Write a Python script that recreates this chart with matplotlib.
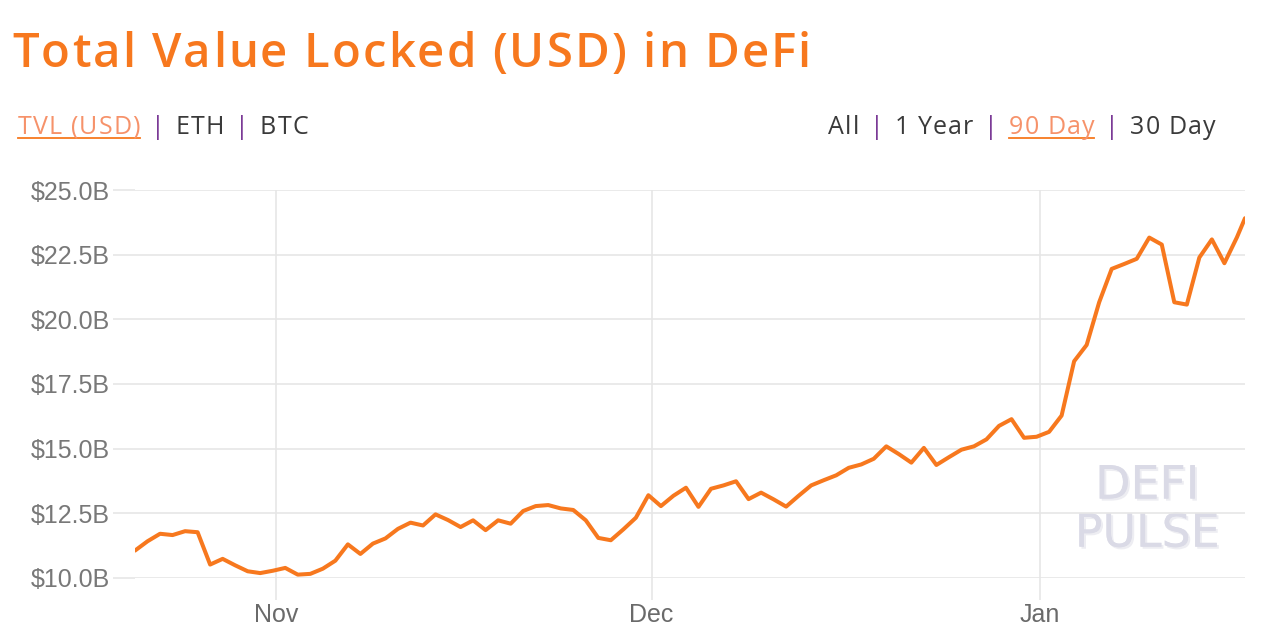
import matplotlib
matplotlib.use("Agg")
import matplotlib.pyplot as plt
import pandas as pd
from matplotlib import patheffects

# daily TVL in billions USD (points sit at ~18:00 each day), last point is "now"
oct_tvl = [11.06, 11.42, 11.71, 11.66, 11.81, 11.77, 10.52, 10.74, 10.49, 10.26, 10.19, 10.28]
nov_tvl = [10.39, 10.13, 10.16, 10.36, 10.67, 11.30, 10.93, 11.33, 11.53, 11.90,
           12.14, 12.03, 12.46, 12.24, 11.97, 12.23, 11.85, 12.23, 12.10, 12.59,
           12.78, 12.82, 12.69, 12.63, 12.23, 11.55, 11.46, 11.88, 12.33, 13.20]
dec_tvl = [12.78, 13.18, 13.49, 12.75, 13.45, 13.58, 13.74, 13.05, 13.30, 13.04,
           12.76, 13.18, 13.58, 13.78, 13.97, 14.26, 14.39, 14.61, 15.09, 14.79,
           14.46, 15.03, 14.37, 14.67, 14.96, 15.09, 15.36, 15.88, 16.14, 15.42, 15.46]
jan_tvl = [15.65, 16.28, 18.38, 19.01, 20.66, 21.95, 22.14, 22.34, 23.16, 22.89,
           20.66, 20.57, 22.39, 23.09, 22.17, 23.17, 23.91]

tvl = oct_tvl + nov_tvl + dec_tvl + jan_tvl
dates = list(pd.date_range("2020-10-20 18:00", periods=len(tvl) - 1, freq="D"))
dates.append(pd.Timestamp("2021-01-17 09:30"))

y_ticks = [10.0, 12.5, 15.0, 17.5, 20.0, 22.5, 25.0]
x_ticks = [pd.Timestamp("2020-11-01"), pd.Timestamp("2020-12-01"), pd.Timestamp("2021-01-01")]
x_labels = ["Nov", "Dec", "Jan"]

ORANGE = "#F7781E"
LIGHT_ORANGE = "#F6926A"
PURPLE = "#7B3A96"
DARK = "#3A3A3A"
GRID = "#E6E6E6"
W, H = 1261, 641

fig = plt.figure(figsize=(W / 100, H / 100), dpi=100)
ax = fig.add_axes([135 / W, 1 - 578 / H, (1245 - 135) / W, (578 - 190) / H])

ax.plot(dates, tvl, color=ORANGE, lw=2.9, solid_joinstyle="round", solid_capstyle="round", zorder=3)

ax.set_xlim(dates[0], dates[-1])
ax.set_ylim(10, 25)
ax.set_yticks(y_ticks)
ax.set_yticklabels(["${:.1f}B".format(v) for v in y_ticks])
ax.set_xticks(x_ticks)
ax.set_xticklabels(x_labels)
ax.grid(True, color=GRID, lw=1.2)
for s in ax.spines.values():
    s.set_visible(False)
ax.tick_params(axis="y", length=16, color=GRID, width=1.2, pad=2,
               labelsize=18, labelcolor="#787878")
ax.tick_params(axis="x", length=16, color=GRID, width=1.2, pad=2,
               labelsize=18, labelcolor="#6a6a6a")
for lab in ax.get_xticklabels() + ax.get_yticklabels():
    lab.set_fontfamily("Liberation Sans")

# watermark
shadow = [patheffects.withSimplePatchShadow(offset=(1.5, -1.5), shadow_rgbFace="#EDEDF2", alpha=1),
          patheffects.Normal()]
for txt, yy in [("DEFI", 0.237), ("PULSE", 0.113)]:
    ax.text(0.912, yy, txt, transform=ax.transAxes, ha="center", va="center",
            fontsize=33, color="#DADAE6", fontfamily="DejaVu Sans", zorder=1,
            path_effects=shadow)

renderer = fig.canvas.get_renderer()


def advance(c, **kw):
    # width of c between two H's minus "HH" -> glyph advance, spaces included
    a = fig.text(0, 0, "H" + c + "H", **kw)
    b = fig.text(0, 0, "HH", **kw)
    w = a.get_window_extent(renderer).width - b.get_window_extent(renderer).width
    a.remove()
    b.remove()
    return w


def tracked(x, base, s, spacing, **kw):
    # no letter-spacing in matplotlib, so glyphs go one by one; returns end x in px
    for c in s:
        if c != " ":
            fig.text(x / W, 1 - base / H, c, va="baseline", **kw)
        x += advance(c, **kw) + spacing
    return x - spacing


def text_width(s, spacing, **kw):
    return sum(advance(c, **kw) for c in s) + spacing * (len(s) - 1)


# title
tracked(12, 67, "Total Value Locked (USD) in DeFi", 2.1, color=ORANGE,
        fontsize=34, fontweight="semibold", fontfamily="Open Sans")


def header_row(parts, x0, base, gap=11, spacing=1.1, align="left"):
    kw = dict(fontsize=18, fontfamily="Open Sans")
    total = sum(text_width(t, spacing, **kw) for t, _, _ in parts) + gap * (len(parts) - 1)
    x = x0 if align == "left" else x0 - total
    for txt, col, und in parts:
        end = tracked(x, base, txt, spacing, color=col, **kw)
        if und:
            fig.add_artist(plt.Line2D([x / W, end / W], [1 - (base + 4) / H] * 2,
                                      color=ORANGE, lw=1.3))
        x = end + gap


header_row([("TVL (USD)", LIGHT_ORANGE, True), ("|", PURPLE, False), ("ETH", DARK, False),
            ("|", PURPLE, False), ("BTC", DARK, False)], 18, 134)
header_row([("All", DARK, False), ("|", PURPLE, False), ("1 Year", DARK, False),
            ("|", PURPLE, False), ("90 Day", LIGHT_ORANGE, True), ("|", PURPLE, False),
            ("30 Day", DARK, False)], 1215, 134, align="right")

fig.savefig("out.png", dpi=100)
